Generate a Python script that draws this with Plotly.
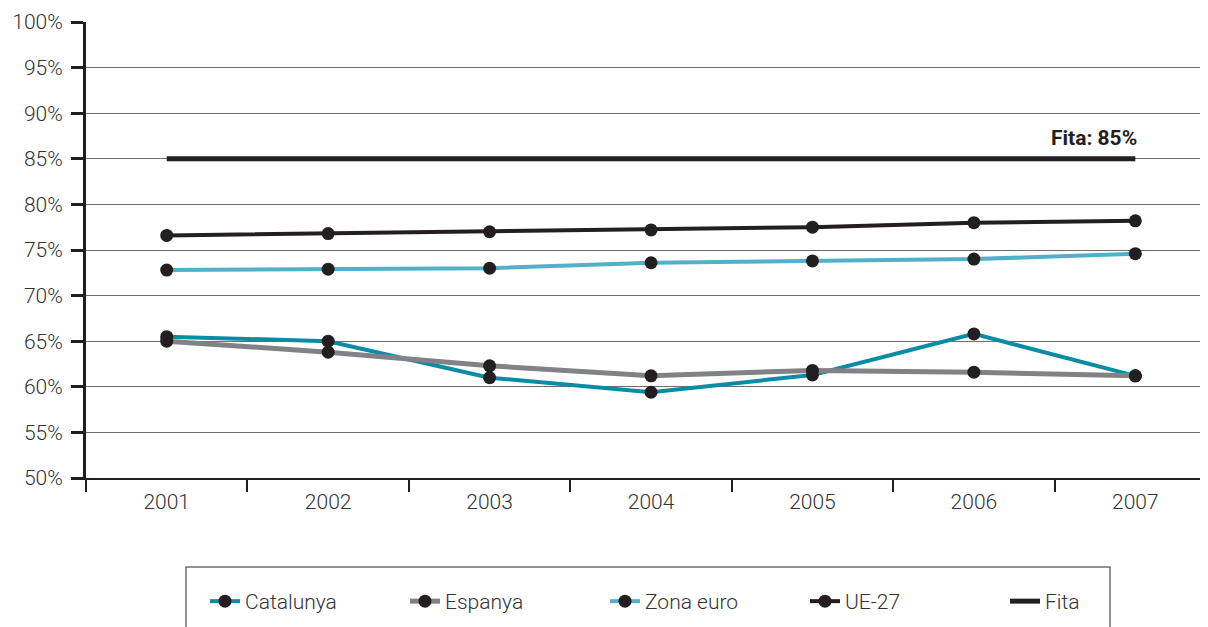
import plotly.graph_objects as go

years = ["2001", "2002", "2003", "2004", "2005", "2006", "2007"]
catalunya = [65.5, 65.0, 61.0, 59.4, 61.3, 65.8, 61.2]
espanya = [65.0, 63.8, 62.3, 61.2, 61.8, 61.6, 61.2]
zona_euro = [72.8, 72.9, 73.0, 73.6, 73.8, 74.0, 74.6]
ue27 = [76.6, 76.8, 77.0, 77.2, 77.5, 78.0, 78.2]
fita = [85, 85, 85, 85, 85, 85, 85]
y_ticks = [50, 55, 60, 65, 70, 75, 80, 85, 90, 95, 100]

DARK = "#231f20"
TXT = "#333333"
FONT = "Roboto"

# the page body adds an 8px offset; compensate in the figure size/margins
OFF = 8
PL, PR, PT, PB = 86, 1208, 22, 478  # target plot area on page
W, H = 1208 - OFF, 627 - OFF


def px_x(px):
    return (px - PL) / (PR - PL)


def px_y(py):
    return (PB - py) / (PB - PT)


fig = go.Figure()
series = [
    ("Catalunya", catalunya, "#0a8ca5", 4),
    ("Espanya", espanya, "#818285", 5),
    ("Zona euro", zona_euro, "#52b0c9", 4),
    ("UE-27", ue27, DARK, 4),
]
for name, vals, col, w in series:
    fig.add_trace(go.Scatter(
        x=years, y=vals, name=name, mode="lines+markers",
        line=dict(color=col, width=w),
        marker=dict(color=DARK, size=13),
    ))
fig.add_trace(go.Scatter(
    x=years, y=fita, name="Fita", mode="lines",
    line=dict(color=DARK, width=5),
))

fig.add_annotation(
    x=6, y=85, text="<b>Fita: 85%</b>", showarrow=False,
    xanchor="right", yanchor="bottom", yshift=7, xshift=4,
    font=dict(family=FONT, size=21, color=DARK),
)

# legend box (extends below the visible page)
fig.add_shape(type="rect", xref="paper", yref="paper",
              x0=px_x(186), x1=px_x(1110),
              y0=px_y(660), y1=px_y(567),
              line=dict(color="#6d6e71", width=1.5), fillcolor="rgba(0,0,0,0)")

fig.update_layout(
    width=W, height=H,
    margin=dict(l=PL - OFF, r=0, t=PT - OFF, b=H - (PB - OFF)),
    paper_bgcolor="white", plot_bgcolor="white",
    font=dict(family=FONT, size=21, color=TXT, weight=300),
    showlegend=True,
    legend=dict(
        orientation="h", x=px_x(205), y=px_y(581),
        xanchor="left", yanchor="top",
        font=dict(family=FONT, size=21, color=TXT, weight=300),
        entrywidth=155, bgcolor="rgba(0,0,0,0)",
    ),
    xaxis=dict(
        type="category", range=[-0.5, 6.45],
        showgrid=False, showline=True, linecolor=DARK, linewidth=2,
        ticks="outside", tickson="boundaries", ticklen=12, tickwidth=2,
        tickcolor=DARK, zeroline=False, ticklabelstandoff=4,
        automargin=False,
    ),
    yaxis=dict(
        range=[50, 100], tickvals=y_ticks,
        ticktext=[f"{v}%" for v in y_ticks],
        showgrid=True, gridcolor="#6d6e71", gridwidth=1,
        showline=True, linecolor=DARK, linewidth=3,
        ticks="outside", ticklen=12, tickwidth=3, tickcolor=DARK,
        zeroline=False, ticklabelstandoff=4, automargin=False,
    ),
)

fig.write_html("out.html")
